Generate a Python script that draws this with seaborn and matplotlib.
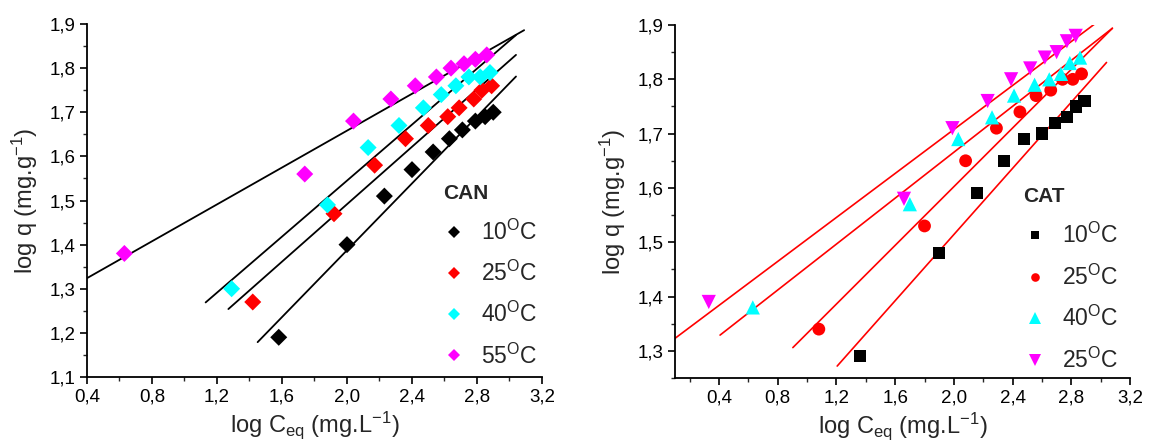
import matplotlib
matplotlib.use("Agg")
import matplotlib.pyplot as plt
import seaborn as sns
from matplotlib.lines import Line2D

sns.set_style("ticks")
plt.rcParams['font.family'] = ['Liberation Sans', 'DejaVu Sans']
plt.rcParams['mathtext.fontset'] = 'custom'
plt.rcParams['mathtext.rm'] = 'Liberation Sans'
plt.rcParams['mathtext.it'] = 'Liberation Sans'

# ---------------- data: CAN (left) ----------------
can_labels = ["10$^{\\mathrm{O}}$C", "25$^{\\mathrm{O}}$C", "40$^{\\mathrm{O}}$C", "55$^{\\mathrm{O}}$C"]
can_x_10 = [1.58, 2.00, 2.23, 2.40, 2.53, 2.63, 2.71, 2.79, 2.85, 2.90]
can_y_10 = [1.19, 1.40, 1.51, 1.57, 1.61, 1.64, 1.66, 1.68, 1.69, 1.70]
can_x_25 = [1.42, 1.92, 2.17, 2.36, 2.50, 2.62, 2.69, 2.78, 2.83, 2.89]
can_y_25 = [1.27, 1.47, 1.58, 1.64, 1.67, 1.69, 1.71, 1.73, 1.75, 1.76]
can_x_40 = [1.29, 1.88, 2.13, 2.32, 2.47, 2.58, 2.67, 2.75, 2.82, 2.88]
can_y_40 = [1.30, 1.49, 1.62, 1.67, 1.71, 1.74, 1.76, 1.78, 1.78, 1.79]
can_x_55 = [0.63, 1.74, 2.04, 2.27, 2.42, 2.55, 2.64, 2.72, 2.79, 2.86]
can_y_55 = [1.38, 1.56, 1.68, 1.73, 1.76, 1.78, 1.80, 1.81, 1.82, 1.83]
# fitted lines: (x_start, x_end), (y_start, y_end)
can_fit_x = [(1.45, 3.04), (1.27, 3.04), (1.13, 3.04), (0.40, 3.09)]
can_fit_y = [(1.179, 1.781), (1.254, 1.830), (1.269, 1.875), (1.324, 1.886)]

# ---------------- data: CAT (right) ----------------
cat_labels = ["10$^{\\mathrm{O}}$C", "25$^{\\mathrm{O}}$C", "40$^{\\mathrm{O}}$C", "25$^{\\mathrm{O}}$C"]
cat_x_10 = [1.36, 1.90, 2.16, 2.34, 2.48, 2.60, 2.69, 2.77, 2.83, 2.89]
cat_y_10 = [1.29, 1.48, 1.59, 1.65, 1.69, 1.70, 1.72, 1.73, 1.75, 1.76]
cat_x_25 = [1.08, 1.80, 2.08, 2.29, 2.45, 2.56, 2.66, 2.74, 2.81, 2.87]
cat_y_25 = [1.34, 1.53, 1.65, 1.71, 1.74, 1.77, 1.78, 1.80, 1.80, 1.81]
cat_x_40 = [0.63, 1.70, 2.03, 2.26, 2.41, 2.55, 2.65, 2.73, 2.79, 2.86]
cat_y_40 = [1.38, 1.57, 1.69, 1.73, 1.77, 1.79, 1.80, 1.81, 1.83, 1.84]
cat_x_55 = [0.33, 1.66, 1.99, 2.23, 2.39, 2.52, 2.62, 2.70, 2.77, 2.83]
cat_y_55 = [1.39, 1.58, 1.71, 1.76, 1.80, 1.82, 1.84, 1.85, 1.87, 1.88]
cat_fit_x = [(1.205, 3.04), (0.903, 3.08), (0.407, 3.08), (0.10, 2.96)]
cat_fit_y = [(1.272, 1.831), (1.306, 1.894), (1.329, 1.894), (1.323, 1.902)]

x_ticks = [0.4, 0.8, 1.2, 1.6, 2.0, 2.4, 2.8, 3.2]
x_ticklabels = ["0,4", "0,8", "1,2", "1,6", "2,0", "2,4", "2,8", "3,2"]
y_ticks_can = [1.1, 1.2, 1.3, 1.4, 1.5, 1.6, 1.7, 1.8, 1.9]
y_ticklabels_can = ["1,1", "1,2", "1,3", "1,4", "1,5", "1,6", "1,7", "1,8", "1,9"]
y_ticks_cat = [1.3, 1.4, 1.5, 1.6, 1.7, 1.8, 1.9]
y_ticklabels_cat = ["1,3", "1,4", "1,5", "1,6", "1,7", "1,8", "1,9"]

colors = ["#000000", "#ff0000", "#00ffff", "#ff00ff"]

fig = plt.figure(figsize=(11.5, 4.48), dpi=100)
ax1 = fig.add_axes([87 / 1150, 1 - 377 / 448, 455 / 1150, 353 / 448])
ax2 = fig.add_axes([675 / 1150, 1 - 378 / 448, 455 / 1150, 353 / 448])


def style_axes(ax, xlim, ylim, yticks, yticklabels):
    ax.set_xticks(x_ticks)
    ax.set_xticklabels(x_ticklabels)
    ax.set_yticks(yticks)
    ax.set_yticklabels(yticklabels)
    xminor = [round(0.2 + 0.4 * i, 3) for i in range(8)]
    ax.set_xticks([v for v in xminor if xlim[0] <= v <= xlim[1]], minor=True)
    yminor = [round(yticks[0] - 0.05 + 0.1 * i, 3) for i in range(len(yticks) + 1)]
    ax.set_yticks([v for v in yminor if ylim[0] <= v <= ylim[1]], minor=True)
    ax.set_xlim(*xlim)
    ax.set_ylim(*ylim)
    ax.tick_params(axis='both', which='major', direction='out', length=5, width=1.2,
                   labelsize=13.5, colors='black', pad=3)
    ax.tick_params(axis='both', which='minor', direction='out', length=3, width=1.0)
    for s in ['top', 'right']:
        ax.spines[s].set_visible(False)
    for s in ['left', 'bottom']:
        ax.spines[s].set_linewidth(1.3)
        ax.spines[s].set_color('black')
    ax.set_xlabel("log C$_{\\mathrm{eq}}$ (mg.L$^{\\mathrm{-1}}$)", fontsize=17, labelpad=3)
    ax.set_ylabel("log q (mg.g$^{\\mathrm{-1}}$)", fontsize=17, labelpad=7)


# ---------- left panel ----------
can_xs = [can_x_10, can_x_25, can_x_40, can_x_55]
can_ys = [can_y_10, can_y_25, can_y_40, can_y_55]
for i in range(4):
    sns.lineplot(x=list(can_fit_x[i]), y=list(can_fit_y[i]), color='black', lw=1.3, ax=ax1)
for i in range(4):
    sns.scatterplot(x=can_xs[i], y=can_ys[i], color=colors[i], marker='D', s=75,
                    edgecolor='none', ax=ax1, zorder=3)
style_axes(ax1, (0.4, 3.2), (1.1, 1.9), y_ticks_can, y_ticklabels_can)
h1 = [Line2D([], [], ls='none', marker='D', color=c, markersize=5.8, markeredgewidth=0) for c in colors]
leg1 = ax1.legend(h1, can_labels, title="CAN", frameon=False, fontsize=16.5,
                  loc='upper left', bbox_to_anchor=(0.782, 0.547),
                  handletextpad=0.68, labelspacing=0.7, handlelength=1.0,
                  borderaxespad=0, borderpad=0)
leg1.get_title().set_fontweight('bold')
leg1.get_title().set_fontsize(15)
leg1._legend_box.align = "left"
leg1._legend_box.sep = 12

# ---------- right panel ----------
cat_xs = [cat_x_10, cat_x_25, cat_x_40, cat_x_55]
cat_ys = [cat_y_10, cat_y_25, cat_y_40, cat_y_55]
cat_markers = ['s', 'o', '^', 'v']
cat_sizes = [78, 85, 105, 105]
cat_leg_ms = [5.8, 6.2, 8.0, 8.0]
for i in range(4):
    sns.lineplot(x=list(cat_fit_x[i]), y=list(cat_fit_y[i]), color='#ff0000', lw=1.2, ax=ax2)
for i in range(4):
    sns.scatterplot(x=cat_xs[i], y=cat_ys[i], color=colors[i], marker=cat_markers[i],
                    s=cat_sizes[i], edgecolor='none', ax=ax2, zorder=3)
style_axes(ax2, (0.1, 3.2), (1.25, 1.9), y_ticks_cat, y_ticklabels_cat)
h2 = [Line2D([], [], ls='none', marker=m, color=c, markersize=ms, markeredgewidth=0)
      for m, c, ms in zip(cat_markers, colors, cat_leg_ms)]
leg2 = ax2.legend(h2, cat_labels, title="CAT", frameon=False, fontsize=16.5,
                  loc='upper left', bbox_to_anchor=(0.765, 0.541),
                  handletextpad=0.72, labelspacing=0.72, handlelength=1.0,
                  borderaxespad=0, borderpad=0)
leg2.get_title().set_fontweight('bold')
leg2.get_title().set_fontsize(15)
leg2._legend_box.align = "left"
leg2._legend_box.sep = 12

fig.savefig("out.png", dpi=100)
